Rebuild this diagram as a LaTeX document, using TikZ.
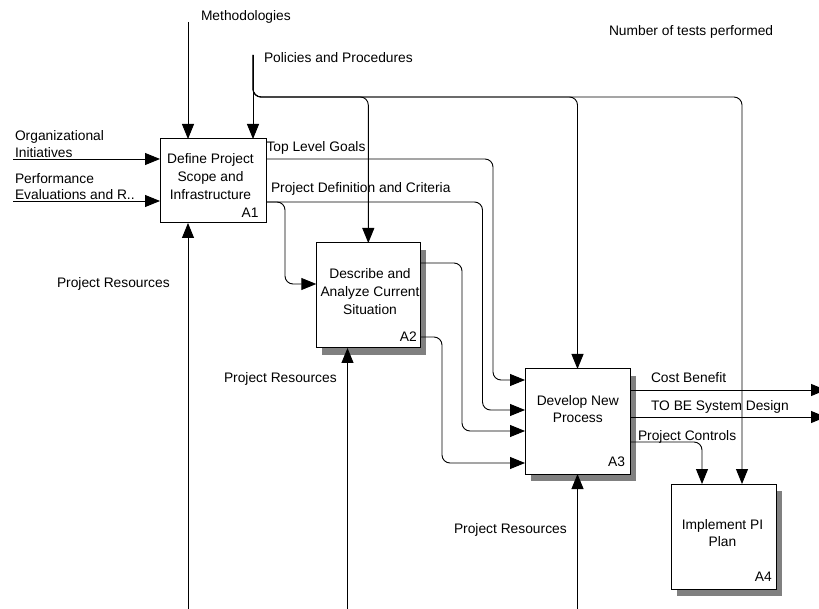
\documentclass[tikz,border=0pt]{standalone}
\usepackage{fontspec}
\setmainfont{Liberation Sans}
\usetikzlibrary{arrows.meta,shadows}
\begin{document}
\begin{tikzpicture}[x=1pt,y=-1pt,
  every node/.style={inner sep=0pt, outer sep=0pt},
  txt/.style={font=\fontsize{13.8}{17.8}\selectfont},
  lbl/.style={txt, anchor=base west},
  boxtext/.style={txt, anchor=base, align=center},
  idtext/.style={txt, anchor=base east},
  fbox/.style={draw, line width=1pt, fill=white, rectangle},
  shad/.style={drop shadow={shadow xshift=6pt, shadow yshift=-7pt, fill=black!50, opacity=1}},
  conn/.style={line width=0.9pt, rounded corners=8pt},
  arr/.style={conn, -{Triangle[length=15pt,width=12pt]}}
]
\useasboundingbox (0,0) rectangle (819,609);
\clip (0,0) rectangle (819,609);

% boxes
\node[fbox, minimum width=106pt, minimum height=84pt] (A1) at (213,181) {};
\node[fbox, shad, minimum width=104pt, minimum height=105pt] (A2) at (368.3,295.5) {};
\node[fbox, shad, minimum width=105pt, minimum height=105pt] (A3) at (577.5,421.5) {};
\node[fbox, shad, minimum width=105pt, minimum height=105pt] (A4) at (723.5,536.5) {};

% box texts (base anchor = baseline of last line)
\node[boxtext] (t1) at (210.5,199.1) {Define Project\\Scope and\\Infrastructure};
\node[boxtext] (t2) at (370,314.6) {Describe and\\Analyze Current\\Situation};
\node[boxtext] (t3) at (577.8,422.8) {Develop New\\Process};
\node[boxtext] (t4) at (722.5,546.8) {Implement PI\\Plan};
\node[idtext] (i1) at (258.5,217.6) {A1};
\node[idtext] (i2) at (416.7,341.6) {A2};
\node[idtext] (i3) at (625,466) {A3};
\node[idtext] (i4) at (771.7,581.6) {A4};

% labels
\node[lbl] (lm) at (201,20.5) {Methodologies};
\node[lbl] (lp) at (264,62.5) {Policies and Procedures};
\node[lbl] (ln) at (609,36) {Number of tests performed};
\node[lbl] (lo1) at (15,141) {Organizational};
\node[lbl] (lo2) at (15,157.5) {Initiatives};
\node[lbl] (le1) at (15,184) {Performance};
\node[lbl] (le2) at (15,200) {Evaluations and R..};
\node[lbl] (ltg) at (266.5,151.5) {Top Level Goals};
\node[lbl] (lpd) at (271,193) {Project Definition and Criteria};
\node[lbl] (lr1) at (57,288) {Project Resources};
\node[lbl] (lr2) at (224,383) {Project Resources};
\node[lbl] (lr3) at (454,533) {Project Resources};
\node[lbl] (lcb) at (651,382.5) {Cost Benefit};
\node[lbl] (ltb) at (651,410.5) {TO BE System Design};
\node[lbl] (lpc) at (638,440) {Project Controls};

% controls from top
\coordinate (m0) at (188,22);
\draw[arr] (m0) -- (m0 |- A1.north);
\coordinate (p0) at (253,55);
\coordinate (pj) at (253,97);
\coordinate (x742) at (742,0);
\draw[arr] (p0) -- (p0 |- A1.north);
\draw[arr] (p0) -- (pj) -- (pj -| A2.north) -- (A2.north);
\draw[arr] (p0) -- (pj) -- (pj -| A3.north) -- (A3.north);
\draw[arr] (p0) -- (pj) -- (pj -| x742) -- (x742 |- A4.north);

% inputs to A1
\coordinate (oi) at (13,159);
\draw[arr] (oi) -- (oi -| A1.west);
\coordinate (pe) at (13,201);
\draw[arr] (pe) -- (pe -| A1.west);

% A1 outputs
\coordinate (tl) at (0,159);
\coordinate (tlx) at (493,380);
\draw[arr] (tl -| A1.east) -- (tl -| tlx) -- (tlx) -- (tlx -| A3.west);
\coordinate (pd) at (0,202);
\coordinate (pdx) at (482.5,410);
\draw[arr] (pd -| A1.east) -- (pd -| pdx) -- (pdx) -- (pdx -| A3.west);
\coordinate (pdb) at (285,284);
\draw[arr] (pd -| A1.east) -- (pd -| pdb) -- (pdb) -- (pdb -| A2.west);

% A2 outputs
\coordinate (o1) at (0,263);
\coordinate (o1x) at (462,431);
\draw[arr] (o1 -| A2.east) -- (o1 -| o1x) -- (o1x) -- (o1x -| A3.west);
\coordinate (o2) at (0,337);
\coordinate (o2x) at (442,463);
\draw[arr] (o2 -| A2.east) -- (o2 -| o2x) -- (o2x) -- (o2x -| A3.west);

% A3 outputs
\coordinate (cb) at (826,390);
\draw[arr] (cb -| A3.east) -- (cb);
\coordinate (tb) at (826,417);
\draw[arr] (tb -| A3.east) -- (tb);
\coordinate (pc) at (702,442);
\draw[arr] (pc -| A3.east) -- (pc) -- (pc |- A4.north);

% mechanisms from bottom
\coordinate (b1) at (188,609);
\draw[arr] (b1) -- (b1 |- A1.south);
\coordinate (b2) at (347.5,609);
\draw[arr] (b2) -- (b2 |- A2.south);
\coordinate (b3) at (577.5,609);
\draw[arr] (b3) -- (A3.south);
\end{tikzpicture}
\end{document}
